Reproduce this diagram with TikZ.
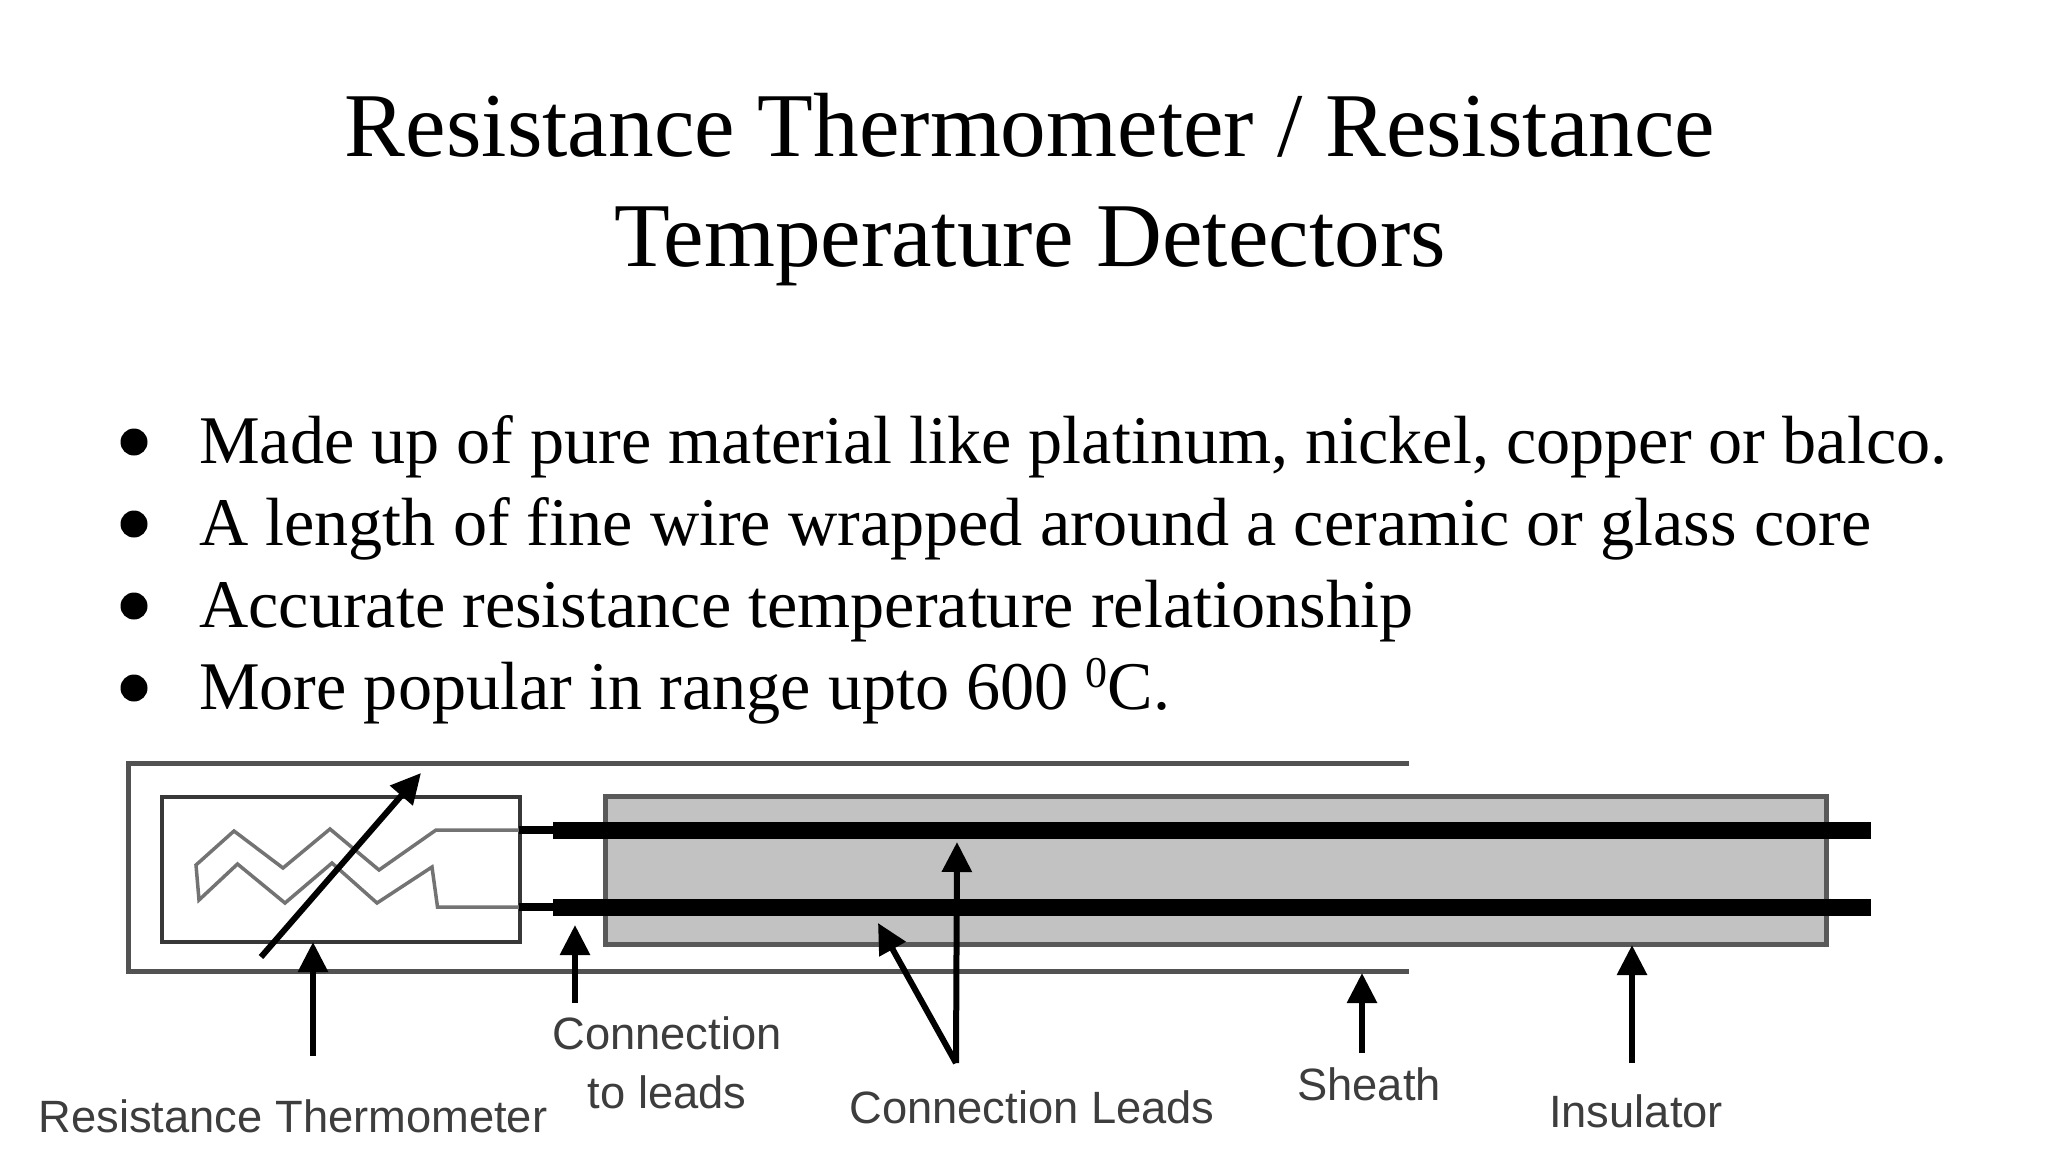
\documentclass[tikz,border=0pt]{standalone}
\usepackage{fontspec}
\setmainfont{Liberation Serif}
\newfontfamily\labelfont{Liberation Sans}
\usetikzlibrary{arrows.meta}
\newcommand{\degsup}{\raisebox{0.31em}{\fontsize{44}{44}\selectfont 0}}
\tikzset{
  titletext/.style={anchor=base,inner sep=0pt,font=\fontsize{91.2}{100}\selectfont,text=black},
  bullettext/.style={anchor=base west,inner sep=0pt,font=\fontsize{68.2}{70}\selectfont,text=black},
  bulletmark/.style={circle,fill=black,inner sep=0pt,minimum size=27pt},
  parttext/.style={anchor=center,inner sep=0pt,font=\labelfont\fontsize{45.3}{50}\selectfont,text=black!76},
  sheathline/.style={draw=black!68,line width=5pt,line join=miter},
  boxline/.style={draw=black!78,line width=4pt},
  insul/.style={draw=black!65,line width=4.5pt,fill=black!24},
  wire/.style={draw=black!55,line width=3.5pt,line join=miter},
  leadthick/.style={draw=black,line width=17pt},
  leadthin/.style={draw=black,line width=8pt},
  pointer/.style={draw=black,line width=6pt,-{Triangle[length=30pt,width=29pt]}},
}
\begin{document}
\begin{tikzpicture}[x=1pt,y=-1pt]
\useasboundingbox[fill=white] (0,0) rectangle (2048,1152);
% text
\node[titletext] (t1) at (1030,156) {Resistance Thermometer / Resistance};
\node[titletext] (t2) at (1030,266) {Temperature Detectors};
\node[bulletmark] (b1) at (134,442) {};
\node[bulletmark] (b2) at (134,524) {};
\node[bulletmark] (b3) at (134,606) {};
\node[bulletmark] (b4) at (134,688) {};
\node[bullettext] (l1) at (199,463) {Made up of pure material like platinum, nickel, copper or balco.};
\node[bullettext] (l2) at (199,545) {A length of fine wire wrapped around a ceramic or glass core};
\node[bullettext] (l3) at (199,627) {Accurate resistance temperature relationship};
\node[bullettext] (l4) at (199,709) {More popular in range upto 600 \degsup C.};
% sheath
\draw[sheathline] (1409,763) -- (128,763) -- (128,971) -- (1409,971);
% insulator
\node[insul,minimum width=1221pt,minimum height=148pt,inner sep=0pt,anchor=north west] (ins) at (603,794) {};
% sensor box
\node[boxline,minimum width=358pt,minimum height=145pt,inner sep=0pt,anchor=north west] (sensor) at (160,795) {};
% wires
\coordinate (wa) at (519,830);
\coordinate (wb) at (519,907);
\draw[wire] (wa) -- (436,830) -- (379,870) -- (330,829) -- (283,868) -- (234,831) -- (196,865) -- (199,900) -- (237.5,864) -- (285,903) -- (332,863) -- (377,903) -- (432,867) -- (437.5,907) -- (wb);
% leads
\coordinate (la) at (553,830);
\coordinate (lb) at (553,907);
\coordinate (ra) at (1871,830);
\coordinate (rb) at (1871,907);
\draw[leadthin] (wa) -- (la);
\draw[leadthin] (wb) -- (lb);
\draw[leadthick] (la) -- (ra);
\draw[leadthick] (lb) -- (rb);
% labels
\node[parttext] (rt) at (293,1116) {Resistance Thermometer};
\node[parttext,align=center] (ctl) at (667,1063) {Connection\\[9pt]to leads};
\node[parttext] (cl) at (1032,1107) {Connection Leads};
\node[parttext] (sh) at (1369,1084) {Sheath};
\node[parttext] (in) at (1636,1111) {Insulator};
% arrows
\coordinate (d0) at (261,957);
\coordinate (d1) at (421,773);
\coordinate (p1a) at (313,1056);
\coordinate (p1b) at (313,942);
\coordinate (p2a) at (575,1003);
\coordinate (p2b) at (575,925);
\coordinate (p3a) at (956,1063);
\coordinate (p3b) at (957,842);
\coordinate (p3c) at (878,923);
\coordinate (p4a) at (1362,1053);
\coordinate (p4b) at (1362,973);
\coordinate (p5a) at (1632,1063);
\coordinate (p5b) at (1632,945);
\draw[pointer] (d0) -- (d1);
\draw[pointer] (p1a) -- (p1b);
\draw[pointer] (p2a) -- (p2b);
\draw[pointer] (p3a) -- (p3b);
\draw[pointer] (p3a) -- (p3c);
\draw[pointer] (p4a) -- (p4b);
\draw[pointer] (p5a) -- (p5b);
\end{tikzpicture}
\end{document}
